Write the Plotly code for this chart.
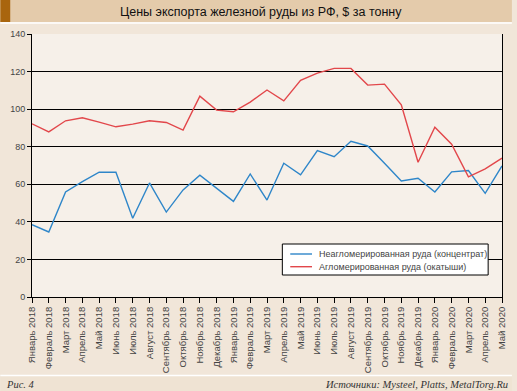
import plotly.graph_objects as go

months = ["Январь 2018", "Февраль 2018", "Март 2018", "Апрель 2018", "Май 2018", "Июнь 2018",
          "Июль 2018", "Август 2018", "Сентябрь 2018", "Октябрь 2018", "Ноябрь 2018", "Декабрь 2018",
          "Январь 2019", "Февраль 2019", "Март 2019", "Апрель 2019", "Май 2019", "Июнь 2019",
          "Июль 2019", "Август 2019", "Сентябрь 2019", "Октябрь 2019", "Ноябрь 2019", "Декабрь 2019",
          "Январь 2020", "Февраль 2020", "Март 2020", "Апрель 2020", "Май 2020"]

concentrate = [38.5, 34.6, 55.9, 61.4, 66.4, 66.4, 41.9, 60.7, 45.2, 57.0, 64.8, 58.0,
               50.9, 65.5, 51.6, 71.2, 65.0, 77.9, 74.7, 82.9, 80.4, 71.2, 61.8, 63.2,
               55.9, 66.6, 67.3, 55.2, 69.8]

pellets = [92.2, 87.9, 93.8, 95.4, 93.1, 90.6, 92.0, 93.8, 92.9, 88.8, 106.9, 99.5,
           98.6, 103.7, 110.2, 104.4, 115.3, 119.2, 121.7, 121.7, 112.8, 113.3, 102.3, 71.7,
           90.4, 81.3, 64.0, 68.2, 73.9]

series_names = ["Неагломерированная руда (концентрат)", "Агломерированная руда (окатыши)"]
series_colors = ["#2E86C9", "#E2474B"]
y_ticks = [0, 20, 40, 60, 80, 100, 120, 140]

W, H = 517, 391
L, R, T, B = 32, 10, 34, 94
PW, PH = W - L - R, H - T - B


def px(x):
    return (x - L) / PW


def py(y):
    return (H - B - y) / PH


fig = go.Figure()
for name, vals, col in zip(series_names, [concentrate, pellets], series_colors):
    fig.add_trace(go.Scatter(x=months, y=vals, mode="lines", name=name,
                             line=dict(color=col, width=1.4), showlegend=False))

shapes = [
    # title bar
    dict(type="rect", xref="paper", yref="paper", x0=px(0), x1=px(W), y0=py(22), y1=py(0),
         fillcolor="#E4CBAB", line=dict(width=0), layer="below"),
    dict(type="rect", xref="paper", yref="paper", x0=px(0), x1=px(10), y0=py(22), y1=py(0),
         fillcolor="#A9650E", line=dict(width=0), layer="below"),
    dict(type="line", xref="paper", yref="paper", x0=px(0), x1=px(W), y0=py(23), y1=py(23),
         line=dict(color="white", width=1.5), layer="below"),
    # footer
    dict(type="rect", xref="paper", yref="paper", x0=px(0), x1=px(W), y0=py(H), y1=py(376),
         fillcolor="#EFE3D3", line=dict(width=0), layer="below"),
    dict(type="line", xref="paper", yref="paper", x0=px(0), x1=px(W), y0=py(375.5), y1=py(375.5),
         line=dict(color="white", width=1.5), layer="below"),
    # legend box
    dict(type="rect", xref="paper", yref="paper", x0=px(285), x1=px(493), y0=py(275), y1=py(244),
         fillcolor="white", line=dict(color="black", width=1), layer="above"),
]

annotations = [
    dict(text="Цены экспорта железной руды из РФ, $ за тонну", xref="paper", yref="paper",
         x=px(263), y=py(11.5), xanchor="center", yanchor="middle", showarrow=False,
         font=dict(family="Liberation Sans, Arial, sans-serif", size=12.5, color="#111111")),
    dict(text="<i>Рис. 4</i>", xref="paper", yref="paper",
         x=px(4), y=py(384), xanchor="left", yanchor="middle", showarrow=False,
         font=dict(family="Liberation Serif, Times New Roman, serif", size=10.5, color="#333333")),
    dict(text="<i>Источники: Mysteel, Platts, MetalTorg.Ru</i>", xref="paper", yref="paper",
         x=px(515), y=py(384), xanchor="right", yanchor="middle", showarrow=False,
         font=dict(family="Liberation Serif, Times New Roman, serif", size=10.5, color="#333333")),
]

# legend entries (sample line + label)
for i, (name, col) in enumerate(zip(series_names, series_colors)):
    yy = 254 + i * 12.7
    shapes.append(dict(type="line", xref="paper", yref="paper", x0=px(293), x1=px(315),
                       y0=py(yy), y1=py(yy), line=dict(color=col, width=1.4), layer="above"))
    annotations.append(dict(text=name, xref="paper", yref="paper", x=px(320), y=py(yy),
                            xanchor="left", yanchor="middle", showarrow=False,
                            font=dict(family="Liberation Sans, Arial, sans-serif", size=9,
                                      color="#444444")))

fig.update_layout(
    width=W, height=H,
    margin=dict(l=L, r=R, t=T, b=B, pad=0),
    paper_bgcolor="#F1E6D9",
    plot_bgcolor="#F6F0E9",
    font=dict(family="Liberation Sans, Arial, sans-serif", color="#444444"),
    shapes=shapes,
    annotations=annotations,
    showlegend=False,
    xaxis=dict(type="category", range=[0, len(months) - 1], tickangle=-90,
               tickfont=dict(size=9.5, color="#444444"),
               showgrid=False, showline=True, linecolor="black", linewidth=1,
               ticks="outside", ticklen=5, tickcolor="black", zeroline=False,
               fixedrange=True),
    yaxis=dict(range=[0, 140], tickvals=y_ticks, showgrid=True, gridcolor="black", gridwidth=1,
               showline=True, linecolor="black", linewidth=1, mirror=True,
               ticks="outside", ticklen=4, tickcolor="black", zeroline=False,
               tickfont=dict(size=9, color="#444444")),
)

fig.write_html("out.html", config={"displayModeBar": False},
               post_script="document.body.style.margin='0';document.body.style.overflow='hidden';")
